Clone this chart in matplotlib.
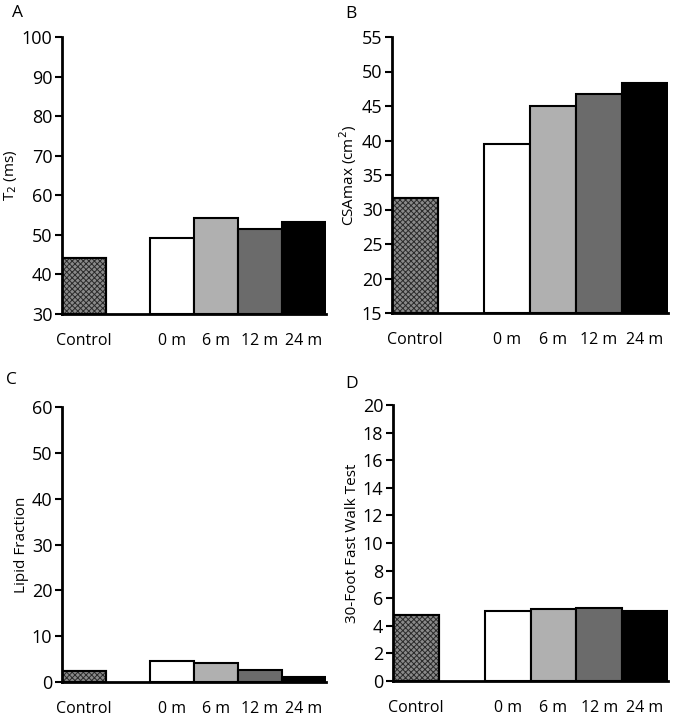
import matplotlib.pyplot as plt
import numpy as np

plt.rcParams["font.family"] = ["Open Sans", "DejaVu Sans"]
plt.rcParams["hatch.linewidth"] = 0.7

# categories: slot 1 is an empty gap between Control and the time points
tick_labels = ["Control", "", "0 m", "6 m", "12 m", "24 m"]
bar_slots = [0, 2, 3, 4, 5]

t2_ms = [44.2, 49.1, 54.2, 51.6, 53.3]
csa_max = [31.6, 39.5, 45.0, 46.7, 48.4]
lipid_fraction = [2.4, 4.6, 4.2, 2.7, 1.0]
walk_test = [4.78, 5.1, 5.2, 5.3, 5.07]

fill_colors = ["#8a8a8a", "white", "#b0b0b0", "#6b6b6b", "black"]

panels = [
    ("A", t2_ms, "T$_2$ (ms)", (30, 100), np.arange(30, 101, 10)),
    ("B", csa_max, "CSAmax (cm$^2$)", (15, 55), np.arange(15, 56, 5)),
    ("C", lipid_fraction, "Lipid Fraction", (0, 60), np.arange(0, 61, 10)),
    ("D", walk_test, "30-Foot Fast Walk Test", (0, 20), np.arange(0, 21, 2)),
]

# axes boxes in figure pixels: left, right, top, bottom
W, H = 675, 725
boxes = [(62, 326, 37, 314), (392, 668, 37, 313),
         (62, 326, 407, 682), (393, 668, 405, 681)]
letter_pos = [(12, 13), (345, 14), (6, 380), (345, 384)]

fig = plt.figure(figsize=(W / 100, H / 100), dpi=100)

for (letter, vals, ylabel, ylim, yticks), (l, r, t, b), (lx, ly) in zip(panels, boxes, letter_pos):
    ax = fig.add_axes([l / W, 1 - b / H, (r - l) / W, (b - t) / H])
    bars = ax.bar(bar_slots, [v - ylim[0] for v in vals], bottom=ylim[0], width=1.0,
                  color=fill_colors, edgecolor="black", linewidth=1.5)
    bars[0].set_hatch("xxxxxx")
    bars[0].set_edgecolor("#2a2a2a")
    ax.bar(bar_slots[0], vals[0] - ylim[0], bottom=ylim[0], width=1.0,
           fill=False, edgecolor="black", linewidth=1.5)

    ax.set_xlim(-0.5, 5.5)
    ax.set_ylim(*ylim)
    ax.set_yticks(yticks)
    ax.set_xticks(range(len(tick_labels)))
    ax.set_xticklabels(tick_labels, fontsize=11.5)
    ax.tick_params(axis="x", length=0, pad=14)
    ax.tick_params(axis="y", direction="out", length=5, width=1.5, labelsize=13, pad=2)
    ax.set_ylabel(ylabel, fontsize=11, labelpad=2)

    for side in ["top", "right"]:
        ax.spines[side].set_visible(False)
    for side in ["left", "bottom"]:
        ax.spines[side].set_linewidth(2)

    fig.text(lx / W, 1 - ly / H, letter, fontsize=12.5, va="center", ha="left")

fig.savefig("out.png", dpi=100)
